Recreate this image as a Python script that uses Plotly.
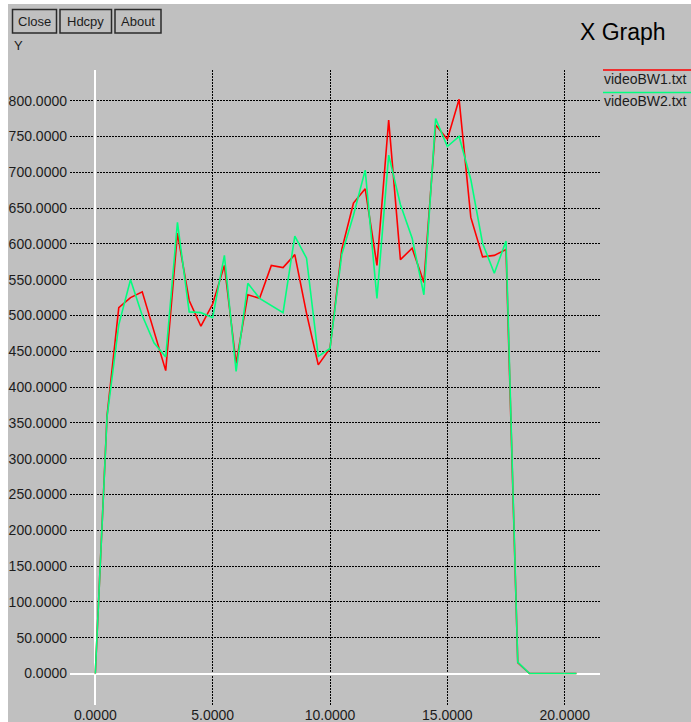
import plotly.graph_objects as go

# Bandwidth traces (time in seconds, rate in kbit/s)
time_s = [0.0, 0.5, 1.0, 1.5, 2.0, 2.5, 3.0, 3.5, 4.0, 4.5,
          5.0, 5.5, 6.0, 6.5, 7.0, 7.5, 8.0, 8.5, 9.0, 9.5,
          10.0, 10.5, 11.0, 11.5, 12.0, 12.5, 13.0, 13.5, 14.0, 14.5,
          15.0, 15.5, 16.0, 16.5, 17.0, 17.5, 18.0, 18.5, 19.0, 19.5,
          20.0, 20.5]

video_bw1 = [0, 360, 511, 525, 533, 477, 423, 615, 521, 485,
             516, 570, 433, 529, 524, 570, 567, 585, 503, 431,
             454, 592, 657, 677, 570, 773, 578, 594, 546, 766,
             746, 802, 637, 582, 584, 592, 15, 0, 0, 0,
             0, 0]

video_bw2 = [0, 358, 487, 550, 500, 462, 442, 630, 505, 504,
             497, 584, 422, 545, 524, 514, 504, 611, 580, 443,
             454, 585, 640, 703, 524, 724, 655, 608, 529, 775,
             736, 750, 690, 601, 559, 604, 16, 0, 0, 0,
             0, 0]

series_names = ["videoBW1.txt", "videoBW2.txt"]
series_colors = ["#ff0000", "#00ff7f"]

x_ticks = [0, 5, 10, 15, 20]
y_ticks = list(range(0, 801, 50))

button_labels = ["Close", "Hdcpy", "About"]

# Page geometry
W, H = 691, 722
ML, MR, MT, MB = 70, 91, 70, 17
PW = W - ML - MR
PH = H - MT - MB
BG = "#c0c0c0"
INK = "#1c1c1c"
FONT = "Liberation Sans, Arial, sans-serif"


def fx(p):
    """pixel column -> paper x"""
    return (p - ML) / PW


def fy(p):
    """pixel row -> paper y"""
    return (H - MB - p) / PH


fig = go.Figure()
for vals, name, col in zip([video_bw1, video_bw2], series_names, series_colors):
    fig.add_trace(go.Scatter(
        x=time_s, y=vals, mode="lines", name=name,
        line=dict(color=col, width=1.6), showlegend=False,
        hoverinfo="x+y",
    ))

shapes = []
annotations = []

# white frame strips around the panel
shapes.append(dict(type="rect", xref="paper", yref="paper",
                   x0=fx(-5), x1=fx(8), y0=fy(H + 5), y1=fy(-5),
                   fillcolor="white", line=dict(width=0), layer="above"))
shapes.append(dict(type="rect", xref="paper", yref="paper",
                   x0=fx(-5), x1=fx(W + 5), y0=fy(4), y1=fy(-5),
                   fillcolor="white", line=dict(width=0), layer="above"))

# buttons
button_boxes = [(12.5, 56.5), (60, 111.5), (115, 161)]
for label, (bx0, bx1) in zip(button_labels, button_boxes):
    shapes.append(dict(type="rect", xref="paper", yref="paper",
                       x0=fx(bx0), x1=fx(bx1), y0=fy(33), y1=fy(9.5),
                       fillcolor=BG, line=dict(color="#2a2a2a", width=1.5)))
    annotations.append(dict(xref="paper", yref="paper",
                            x=fx((bx0 + bx1) / 2), y=fy(21.5),
                            text=label, showarrow=False,
                            xanchor="center", yanchor="middle",
                            font=dict(family=FONT, size=13, color=INK)))

# axis caption and title
annotations.append(dict(xref="paper", yref="paper", x=fx(12), y=fy(46),
                        text="Y", showarrow=False, xanchor="left", yanchor="middle",
                        font=dict(family=FONT, size=13, color=INK)))
annotations.append(dict(xref="paper", yref="paper", x=fx(578), y=fy(32),
                        text="X Graph", showarrow=False, xanchor="left", yanchor="middle",
                        font=dict(family=FONT, size=23, color="#000000")))

# legend entries: coloured line above each file name
legend_rows = [70, 92.5]
for name, col, ly in zip(series_names, series_colors, legend_rows):
    shapes.append(dict(type="line", xref="paper", yref="paper",
                       x0=fx(603), x1=fx(692), y0=fy(ly), y1=fy(ly),
                       line=dict(color=col, width=1.6)))
    annotations.append(dict(xref="paper", yref="paper", x=fx(602), y=fy(ly + 8.5),
                            text=name, showarrow=False, xanchor="left", yanchor="middle",
                            font=dict(family=FONT, size=14, color=INK)))

# axis ranges derived from pixel layout
x_per_px = 1 / 23.47
x0_px = 95.3
y_per_px = 1 / 0.716
y0_px = 673.5

x_range = [(ML - x0_px) * x_per_px, (W - MR - x0_px) * x_per_px]
y_range = [(y0_px - (H - MB)) * y_per_px, (y0_px - MT) * y_per_px]

axis_common = dict(
    showgrid=True, gridcolor="#000000", gridwidth=1, griddash="2px,1px",
    zeroline=True, zerolinecolor="#ffffff", zerolinewidth=2,
    showline=False, ticks="", tickformat=".4f", automargin=False,
    tickfont=dict(family=FONT, size=14, color=INK),
)

fig.update_layout(
    width=W, height=H, autosize=False,
    margin=dict(l=ML, r=MR, t=MT, b=MB, pad=0),
    paper_bgcolor=BG, plot_bgcolor=BG,
    xaxis=dict(range=x_range, tickvals=x_ticks, **axis_common),
    yaxis=dict(range=y_range, tickvals=y_ticks, ticklabelstandoff=2, **axis_common),
    shapes=shapes, annotations=annotations,
    showlegend=False,
)

fig.write_html("out.html")
